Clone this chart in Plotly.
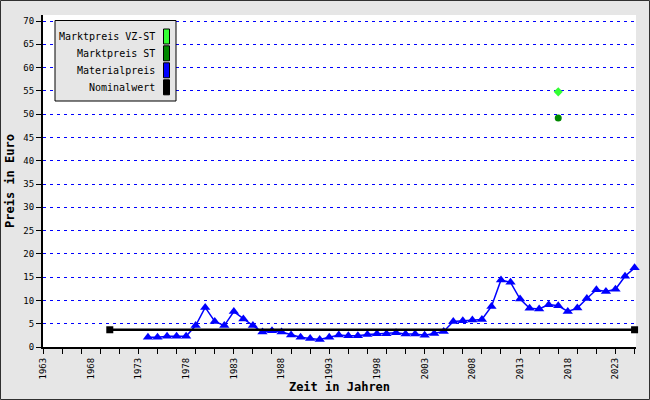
import plotly.graph_objects as go

# ---- data ----
years_material = list(range(1974, 2026))
material_price = [
    2.1, 2.1, 2.3, 2.3, 2.3, 4.6, 8.5, 5.5, 4.6, 7.6,
    6.0, 4.6, 3.2, 3.5, 3.2, 2.6, 2.1, 1.85, 1.6, 2.1,
    2.6, 2.4, 2.4, 2.7, 2.85, 2.85, 3.05, 2.8, 2.8, 2.55,
    2.9, 3.35, 5.5, 5.65, 5.8, 5.9, 8.7, 14.4, 13.9, 10.3,
    8.3, 8.15, 9.1, 8.85, 7.65, 8.35, 10.4, 12.3, 11.9, 12.4,
    15.2, 17.0,
]
years_nominal = [1970, 2025]
nominal_value = [3.7, 3.7]
market_year = [2017]
market_vzst = [54.8]
market_st = [49.2]

legend_labels = ["Marktpreis VZ-ST", "Marktpreis ST", "Materialpreis", "Nominalwert"]
legend_colors = ["#33ff33", "#008800", "#0000ff", "#000000"]

x_range = [1963, 2025.15]
y_range = [0, 71.3]

# ---- geometry (pixels) ----
W, H = 650, 400
ML, MR, MT, MB = 43, 14, 15, 53
PW = W - ML - MR
PH = H - MT - MB

def px(x):
    return (x - ML) / PW

def py(y):
    return (H - MB - y) / PH

FONT = "DejaVu Sans Mono"

fig = go.Figure()

fig.add_trace(go.Scatter(
    x=years_material, y=material_price, mode="lines+markers",
    line=dict(color="#0000ff", width=1.5),
    marker=dict(symbol="triangle-up", size=9, color="#0000ff"),
    xaxis="x", yaxis="y", cliponaxis=False, showlegend=False,
))
fig.add_trace(go.Scatter(
    x=years_nominal, y=nominal_value, mode="lines+markers",
    line=dict(color="#000000", width=2.5),
    marker=dict(symbol="square", size=7, color="#000000"),
    xaxis="x2", yaxis="y", cliponaxis=False, showlegend=False,
))
fig.add_trace(go.Scatter(
    x=market_year, y=market_vzst, mode="markers",
    marker=dict(symbol="diamond", size=7, color="#33ff33"),
    xaxis="x2", yaxis="y", showlegend=False,
))
fig.add_trace(go.Scatter(
    x=market_year, y=market_st, mode="markers",
    marker=dict(symbol="circle", size=7, color="#008800"),
    xaxis="x2", yaxis="y", showlegend=False,
))

shapes = []
annotations = []

# custom legend (text left of swatch, as in reference)
shapes.append(dict(type="rect", xref="paper", yref="paper",
                   x0=px(55), x1=px(176), y0=py(101), y1=py(20.5),
                   fillcolor="#e6e6e6", line=dict(color="#000000", width=1), layer="above"))
row_y = [36.5, 53.3, 70.3, 87.3]
for lab, col, yc in zip(legend_labels, legend_colors, row_y):
    annotations.append(dict(xref="paper", yref="paper", x=px(157), y=py(yc),
                            xanchor="right", yanchor="middle", text=lab, showarrow=False,
                            font=dict(family=FONT, size=10, color="#000000")))
    shapes.append(dict(type="rect", xref="paper", yref="paper",
                       x0=px(163.5), x1=px(169.5), y0=py(yc + 7.5), y1=py(yc - 7.5),
                       fillcolor=col, line=dict(color="#000000", width=1), layer="above"))

# outer frame
shapes.append(dict(type="rect", xref="paper", yref="paper",
                   x0=px(0.5), x1=px(649.5), y0=py(399.5), y1=py(0.5),
                   line=dict(color="#303030", width=1), fillcolor="rgba(0,0,0,0)", layer="above"))

fig.update_layout(
    width=W, height=H,
    margin=dict(l=ML, r=MR, t=MT, b=MB, autoexpand=False),
    paper_bgcolor="#e6e6e6", plot_bgcolor="#ffffff",
    font=dict(family=FONT, size=9, color="#000000"),
    showlegend=False,
    shapes=shapes, annotations=annotations,
    xaxis=dict(
        range=x_range, tickmode="linear", tick0=1963, dtick=2,
        ticks="outside", ticklen=5, tickwidth=1, tickcolor="#000000",
        showticklabels=False, showgrid=False, zeroline=False,
        showline=True, linecolor="#000000", linewidth=2,
    ),
    xaxis2=dict(
        range=x_range, overlaying="x", side="bottom", anchor="y",
        tickmode="linear", tick0=1963, dtick=5, ticks="", ticklabelstandoff=8,
        tickangle=-90, showgrid=False, zeroline=False, showline=False,
        tickfont=dict(family=FONT, size=9, color="#000000"),
        title=dict(text="<b>Zeit in Jahren</b>", standoff=4,
                   font=dict(family=FONT, size=12, color="#000000")),
    ),
    yaxis=dict(
        range=y_range, tickmode="linear", tick0=0, dtick=5,
        ticks="outside", ticklen=5, tickwidth=1, tickcolor="#000000",
        showgrid=True, gridcolor="#0000ff", gridwidth=1, griddash="3px,4px",
        zeroline=False, showline=True, linecolor="#000000", linewidth=2,
        tickfont=dict(family=FONT, size=9, color="#000000"),
        title=dict(text="<b>Preis in Euro</b>", standoff=6,
                   font=dict(family=FONT, size=12, color="#000000")),
    ),
)

fig.write_html("out.html", config={"displayModeBar": False},
               post_script="document.body.style.margin='0px';document.body.style.padding='0px';")
